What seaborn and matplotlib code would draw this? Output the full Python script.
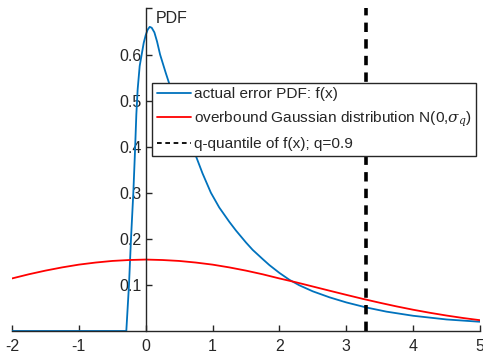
import numpy as np
import pandas as pd
import matplotlib
matplotlib.use('Agg')
import matplotlib.pyplot as plt
import seaborn as sns

# values
actual_x = [-2.0, -0.29, -0.25, -0.22, -0.185, -0.16, -0.14, -0.12, -0.09, -0.06, -0.03,
            0.0, 0.03, 0.06, 0.09, 0.13, 0.17, 0.215, 0.30, 0.39, 0.50, 0.62, 0.75, 0.85,
            0.975, 1.1, 1.25, 1.35, 1.5, 1.6, 1.75, 1.85, 2.0, 2.15, 2.3, 2.5, 2.75, 3.0,
            3.3, 3.6, 4.0, 4.5, 5.0]
actual_pdf = [0.0, 0.0, 0.10, 0.20, 0.30, 0.39, 0.47, 0.525, 0.575, 0.60, 0.625,
              0.642, 0.654, 0.66, 0.658, 0.648, 0.628, 0.60, 0.56, 0.52, 0.47, 0.425, 0.38, 0.342,
              0.30, 0.268, 0.237, 0.218, 0.192, 0.176, 0.156, 0.143, 0.126, 0.111, 0.099, 0.086,
              0.073, 0.062, 0.051, 0.042, 0.033, 0.025, 0.020]

gauss_x = [-2.0, -1.75, -1.5, -1.25, -1.0, -0.75, -0.5, -0.25, 0.0, 0.25, 0.5, 0.75,
           1.0, 1.25, 1.5, 1.75, 2.0, 2.25, 2.5, 2.75, 3.0, 3.25, 3.5, 3.75, 4.0,
           4.25, 4.5, 4.75, 5.0]
gauss_pdf = [0.114, 0.123, 0.131, 0.138, 0.144, 0.1485, 0.152, 0.154, 0.155, 0.154, 0.152, 0.1485,
             0.144, 0.138, 0.131, 0.123, 0.114, 0.1056, 0.0965, 0.0874, 0.0784, 0.0696, 0.0613, 0.0534, 0.0461,
             0.0395, 0.0335, 0.0281, 0.0234]

q_quantile = 3.3
xticks = [-2, -1, 0, 1, 2, 3, 4, 5]
yticks = [0.1, 0.2, 0.3, 0.4, 0.5, 0.6, 0.7]
ytick_labels = ['0.1', '0.2', '0.3', '0.4', '0.5', '0.6', '']

sns.set_style('ticks')
plt.rcParams['font.family'] = ['Liberation Sans', 'DejaVu Sans']
plt.rcParams['mathtext.fontset'] = 'custom'
plt.rcParams['mathtext.it'] = 'DejaVu Serif:italic'
plt.rcParams['mathtext.rm'] = 'Liberation Sans'
plt.rcParams['axes.unicode_minus'] = False

df_actual = pd.DataFrame({'x': actual_x, 'pdf': actual_pdf})
df_gauss = pd.DataFrame({'x': gauss_x, 'pdf': gauss_pdf})

fig = plt.figure(figsize=(4.83, 3.6), dpi=100)
ax = fig.add_axes([0.0248, 0.0806, 0.969, 0.896])

sns.lineplot(data=df_actual, x='x', y='pdf', color='#0072BD', lw=1.3,
             label='actual error PDF: f(x)', ax=ax)
sns.lineplot(data=df_gauss, x='x', y='pdf', color='#FF0000', lw=1.3,
             label=r'overbound Gaussian distribution N(0,$\sigma_q$)', ax=ax)
ax.axvline(q_quantile, color='black', ls=(0, (2.6, 2.0)), lw=2.6,
           label='q-quantile of f(x); q=0.9')

ax.set_xlim(-2, 5)
ax.set_ylim(0, 0.7)
ax.set_xticks(xticks)
ax.set_yticks(yticks)
ax.set_yticklabels(ytick_labels)
ax.set_xlabel('')
ax.set_ylabel('')

ax.spines['left'].set_position(('data', 0))
ax.spines['top'].set_visible(False)
ax.spines['right'].set_visible(False)
for s in ['left', 'bottom']:
    ax.spines[s].set_color('#262626')
    ax.spines[s].set_linewidth(1.0)
ax.tick_params(direction='in', length=4, width=1.0, colors='#262626',
               labelsize=11.5, labelcolor='#262626')
ax.tick_params(axis='x', pad=6)
ax.tick_params(axis='y', pad=3)

ax.text(0.15, 0.695, 'PDF', fontsize=11.5, color='#262626', va='top', ha='left')

leg = ax.legend(loc='upper left', bbox_to_anchor=(0.3, 0.77), fontsize=11.1,
                frameon=True, fancybox=False, framealpha=1, borderpad=0.3,
                handlelength=2.2, handletextpad=0.2, labelspacing=0.55,
                borderaxespad=0)
leg.get_frame().set_edgecolor('#262626')
leg.get_frame().set_linewidth(1.0)
for line in leg.get_lines():
    line.set_linewidth(1.3)

fig.savefig('out.png', dpi=100)
